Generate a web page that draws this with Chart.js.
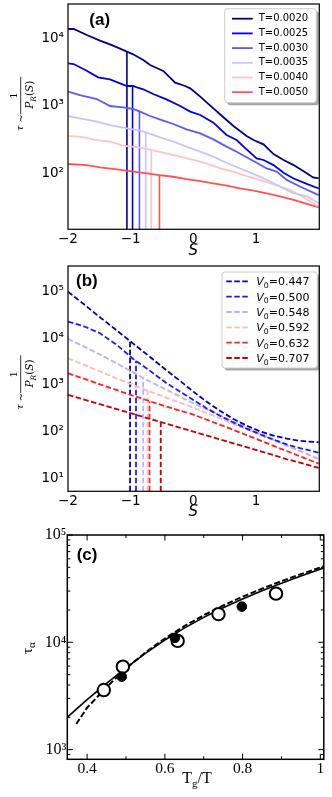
<!DOCTYPE html>
<html><head><meta charset="utf-8">
<script src="https://cdn.jsdelivr.net/npm/chart.js@4.4.1/dist/chart.umd.min.js"></script>
<style>
html,body{margin:0;padding:0;background:#fff;}
body{width:332px;height:797px;position:relative;overflow:hidden;}
canvas{position:absolute;left:0;}
</style></head><body>
<canvas id="ca" width="332" height="262" style="top:0px;width:332px;height:262px"></canvas>
<canvas id="cb" width="332" height="263" style="top:262px;width:332px;height:263px"></canvas>
<canvas id="cc" width="332" height="272" style="top:525px;width:332px;height:272px"></canvas>
<script>
// ================= DATA =================
// ---- panel (a): tau ~ 1/P_R(S) vs S, simulations ----
const a_T = [0.0020, 0.0025, 0.0030, 0.0035, 0.0040, 0.0050];
const a_S_T0020 = [-2.00,-1.91,-1.70,-1.49,-1.28,-1.06,-0.96,-0.80,-0.69,-0.48,-0.29,-0.13,-0.05,0.11,0.32,0.53,0.64,0.85,0.96,1.12,1.28,1.44,1.60,1.81,1.91,2.00];
const a_tau_T0020 = [13600,13600,11070,9130,7690,6280,5730,4720,3980,3250,2180,1945,1795,1352,908,610,497,353,308,266,191,156,131,99,86,83];
const a_S_T0025 = [-2.00,-1.91,-1.70,-1.52,-1.33,-1.17,-1.06,-0.96,-0.90,-0.80,-0.64,-0.43,-0.21,-0.05,0.11,0.32,0.53,0.69,0.85,1.01,1.12,1.28,1.44,1.60,1.81,2.00];
const a_tau_T0025 = [4220,4120,3280,2610,2440,2130,1945,1945,1860,1738,1480,1234,983,811,723,557,366,308,224,165,156,131,101,83,69,59];
const a_S_T0030 = [-2.00,-1.81,-1.54,-1.33,-1.12,-0.96,-0.85,-0.69,-0.48,-0.32,-0.11,0.11,0.32,0.53,0.69,0.85,1.01,1.17,1.33,1.49,1.70,2.00];
const a_tau_T0030 = [1603,1431,1248,983,940,888,811,699,596,532,443,387,315,246,207,171,142,117,105,79,63,47];
const a_S_T0035 = [-2.00,-1.81,-1.54,-1.33,-1.06,-0.85,-0.74,-0.53,-0.32,-0.11,0.11,0.32,0.53,0.74,0.96,1.17,1.38,1.60,1.81,2.00];
const a_tau_T0035 = [699,645,576,514,459,424,396,338,291,246,207,175,142,117,97,79,63,50,45,36];
const a_S_T0040 = [-2.00,-1.81,-1.54,-1.33,-1.12,-0.85,-0.66,-0.43,-0.21,0.00,0.21,0.43,0.64,0.85,1.06,1.28,1.49,1.70,2.00];
const a_tau_T0040 = [353,345,308,291,254,237,219,196,175,156,139,117,105,90,79,68,59,47,32];
const a_S_T0050 = [-2.00,-1.70,-1.49,-1.22,-0.96,-0.74,-0.54,-0.32,-0.11,0.11,0.32,0.53,0.74,0.96,1.17,1.38,1.60,1.81,2.00];
const a_tau_T0050 = [136,131,121,113,105,99,93,88,81,76,70,65,59,55,50,45,40,35,31];
const a_markS = [-1.06,-0.97,-0.86,-0.76,-0.67,-0.54];
const a_markTau = [6280,1945,811,396,219,93];
const a_xTicks = [-2,-1,0,1];
const a_yTicks = [100,1000,10000];

// ---- panel (b): model curves ----
const b_V0 = [0.447, 0.500, 0.548, 0.592, 0.632, 0.707];
const b_S = [-2.00,-1.76,-1.49,-1.22,-0.96,-0.69,-0.43,-0.21,0.00,0.21,0.43,0.64,0.85,1.06,1.28,1.49,1.70,2.00];
const b_tau_V0447 = [97700,54700,27900,14500,7640,3960,2060,1220,721,442,279,188,136,103,83,72,64,60];
const b_tau_V0500 = [22600,18200,12700,7160,3600,2000,1100,720,479,320,218,158,117,89,68,54,45,36];
const b_tau_V0548 = [9620,6760,4470,2880,1860,1175,794,562,407,302,224,166,124,93,69,51,39,26];
const b_tau_V0592 = [3720,2750,1950,1380,1000,724,537,417,331,251,193,148,114,87,66,50,39,27];
const b_tau_V0632 = [1780,1380,1035,776,589,447,347,282,234,182,141,110,85,66,50,39,30,21];
const b_tau_V0707 = [617,497,389,305,241,189,150,122,101,84,69,57,47,39,32,26,22,17];
const b_markS = [-1.01,-0.915,-0.80,-0.73,-0.70,-0.52];
const b_markTau = [8600,3300,1410,760,452,162];
const b_xTicks = [-2,-1,0,1];
const b_yTicks = [10,100,1000,10000,100000];

// ---- panel (c): tau_alpha vs Tg/T ----
const c_x_open = [0.443, 0.492, 0.633, 0.738, 0.886];
const c_tau_open = [3590, 5930, 10300, 18300, 28400];
const c_x_filled = [0.489, 0.626, 0.798];
const c_tau_filled = [4780, 11000, 21500];
const c_x_solid = [0.35,0.40,0.45,0.50,0.55,0.60,0.65,0.70,0.75,0.80,0.85,0.90,0.95,1.01];
const c_tau_solid = [2018,2917,4150,5781,7889,10495,13552,17061,20989,25351,30200,35560,41500,49550];
const c_x_dashed = [0.372,0.40,0.45,0.50,0.55,0.60,0.65,0.70,0.75,0.80,0.85,0.90,0.95,1.01];
const c_tau_dashed = [1730,2455,3819,5689,8035,10839,14125,17865,22030,26610,31620,37150,43150,51290];
const c_xTicks = [0.4,0.6,0.8,1.0];
const c_xMinorTicks = [0.5,0.7,0.9];
const c_yTicks = [1000,10000,100000];

// ================= STYLE / LAYOUT =================
const colA = ['#00008c','#0000e8','#5a5aff','#c6c6ff','#ffc4c4','#ff5252'];
const colB = ['#0000b8','#1c1cff','#b4b4ff','#ffb8b8','#ff2020','#c40000'];
const DASH_B = [5.5,2.5];
Chart.defaults.font.family = '"DejaVu Sans"';

const SUP = {'0':'\u2070','1':'\u00b9','2':'\u00b2','3':'\u00b3','4':'\u2074','5':'\u2075','6':'\u2076','7':'\u2077','8':'\u2078','9':'\u2079'};
function powLabel(v){ const e=Math.round(Math.log10(v)); return '10'+String(e).split('').map(c=>SUP[c]).join(''); }
function minusLabel(v){ return v<0 ? '\u2212'+Math.abs(v) : String(v); }
function pts(xs, ys){ return xs.map((x,i)=>({x:x, y:ys[i]})); }

function frame(ctx, ca, lw, col){ ctx.save(); ctx.strokeStyle=col; ctx.lineWidth=lw; ctx.strokeRect(ca.left, ca.top, ca.right-ca.left, ca.bottom-ca.top); ctx.restore(); }
function roundRect(ctx,x,y,w,h,r){ ctx.beginPath(); ctx.moveTo(x+r,y); ctx.arcTo(x+w,y,x+w,y+h,r); ctx.arcTo(x+w,y+h,x,y+h,r); ctx.arcTo(x,y+h,x,y,r); ctx.arcTo(x,y,x+w,y,r); ctx.closePath(); }
function seq(ctx, x, y, parts){
  ctx.textAlign='left'; ctx.textBaseline='alphabetic';
  for (const p of parts){ ctx.font=p[1]; ctx.fillText(p[0], x, y+(p[2]||0)); x+=ctx.measureText(p[0]).width; }
  return x;
}
function seqWidth(ctx, parts){ let w=0; for(const p of parts){ ctx.font=p[1]; w+=ctx.measureText(p[0]).width; } return w; }

function panelLabel(ctx, t, x, y){
  ctx.save(); ctx.fillStyle='#000'; ctx.font='bold 17px "Liberation Sans"'; ctx.textAlign='left'; ctx.textBaseline='middle';
  ctx.fillText(t, x, y); ctx.restore();
}
function fracTitle(ctx, cx, cy){
  ctx.save(); ctx.translate(cx, cy); ctx.rotate(-Math.PI/2); ctx.fillStyle='#000'; ctx.strokeStyle='#000';
  ctx.lineWidth=0.8; ctx.beginPath(); ctx.moveTo(-18.8,0); ctx.lineTo(18.8,0); ctx.stroke();
  const F='"DejaVu Serif"';
  ctx.font='10px '+F; ctx.textAlign='center'; ctx.textBaseline='alphabetic'; ctx.fillText('1', 0, -4.2);
  const den=[['P','italic 10.5px '+F,0],['R','italic 7.5px '+F,2.5],['(','10.5px '+F,0],['S','italic 10.5px '+F,0],[')','10.5px '+F,0]];
  const w=seqWidth(ctx, den); seq(ctx, 0.8-w/2, 12.4, den);
  ctx.textAlign='center';
  ctx.font='italic 10px '+F; ctx.fillText('\u03c4', -32.8, 2.7);
  ctx.font='10px '+F; ctx.fillText('~', -22.8, 3.2);
  ctx.restore();
}
function titleS(ctx, x, y){
  ctx.save(); ctx.fillStyle='#000'; ctx.font='italic 15px "DejaVu Sans"'; ctx.textAlign='center'; ctx.textBaseline='middle';
  ctx.fillText('S', x, y); ctx.restore();
}
function legend(ctx, box, rows, lx0, lx1, tx, items){
  ctx.save();
  roundRect(ctx, box.x+2.5, box.y+2.5, box.w, box.h, 3); ctx.fillStyle='rgba(0,0,0,0.35)'; ctx.fill();
  roundRect(ctx, box.x, box.y, box.w, box.h, 3); ctx.fillStyle='#fff'; ctx.fill();
  ctx.strokeStyle='#cccccc'; ctx.lineWidth=1; ctx.stroke();
  items.forEach((it,i)=>{
    const y=rows[i];
    ctx.beginPath(); ctx.setLineDash(it.dash||[]); ctx.strokeStyle=it.color; ctx.lineWidth=it.width;
    ctx.moveTo(lx0,y); ctx.lineTo(lx1,y); ctx.stroke(); ctx.setLineDash([]);
    ctx.fillStyle='#000'; it.text(ctx, tx, y);
  });
  ctx.restore();
}

function makeChart(id, W, H, area, xc, yc, datasets, decor){
  return new Chart(document.getElementById(id), {
    type:'line',
    data:{ datasets: datasets },
    options:{
      responsive:false, animation:false, devicePixelRatio:1, events:[],
      layout:{ padding:{ left:0, top:area.top, right:W-area.right, bottom:0 } },
      plugins:{ legend:{display:false}, tooltip:{enabled:false}, title:{display:false} },
      elements:{ point:{ radius:0 }, line:{ tension:0, fill:false } },
      scales:{
        x:{ type:'linear', position:'bottom', min:xc.min, max:xc.max,
            afterFit: s=>{ s.height = H-area.bottom; s.paddingLeft=0; s.paddingRight=0; },
            afterBuildTicks: s=>{ s.ticks = xc.ticks.map(v=>({value:v})); },
            ticks:{ callback: xc.fmt, font: xc.font, color:'#000', padding: xc.pad, maxRotation:0, minRotation:0, autoSkip:false },
            grid:{ display:false, drawTicks:false }, border:{ display:false } },
        y:{ type:'logarithmic', position:'left', min:yc.min, max:yc.max,
            afterFit: s=>{ s.width = area.left; s.paddingTop=0; s.paddingBottom=0; },
            afterBuildTicks: s=>{ s.ticks = yc.ticks.map(v=>({value:v})); },
            ticks:{ callback: v=>powLabel(v), font: yc.font, color:'#000', padding: yc.pad, autoSkip:false },
            grid:{ display:false, drawTicks:false }, border:{ display:false } }
      }
    },
    plugins:[{ id:'decor', afterDraw: c=>decor(c) }]
  });
}

// ================= PANEL (a) =================
const A_AREA = {left:68, top:4, right:319.3, bottom:229.3};
const A_YMIN = 14.66, A_YMAX = 31900;
const aS = [a_S_T0020,a_S_T0025,a_S_T0030,a_S_T0035,a_S_T0040,a_S_T0050];
const aTau = [a_tau_T0020,a_tau_T0025,a_tau_T0030,a_tau_T0035,a_tau_T0040,a_tau_T0050];
const dsA = aS.map((s,i)=>({ label:'T='+a_T[i].toFixed(4), data:pts(s,aTau[i]), borderColor:colA[i], borderWidth:1.8, pointRadius:0 }))
  .concat(a_markS.map((s,i)=>({ label:'', data:[{x:s,y:A_YMIN},{x:s,y:a_markTau[i]}], borderColor:colA[i], borderWidth:1.6, pointRadius:0 })));
makeChart('ca', 332, 262, A_AREA,
  { min:-2, max:2.01, ticks:a_xTicks, fmt:v=>minusLabel(v), font:{size:13.5, family:'"DejaVu Sans"'}, pad:2 },
  { min:A_YMIN, max:A_YMAX, ticks:a_yTicks, font:{size:13.5, family:'"DejaVu Sans"'}, pad:4 },
  dsA,
  c=>{
    const ctx=c.ctx;
    frame(ctx, c.chartArea, 1.3, '#111');
    panelLabel(ctx, '(a)', 89.3, 20.7);
    fracTitle(ctx, 20.7, 95.5);
    titleS(ctx, 193.3, 251);
    const items = a_T.map((t,i)=>({ color:colA[i], width:1.8, text:(cx,x,y)=>{ cx.font='10px "DejaVu Sans"'; cx.textAlign='left'; cx.textBaseline='middle'; cx.fillText(c.data.datasets[i].label, x, y); } }));
    legend(ctx, {x:224.7, y:8.7, w:91.6, h:94}, [18.7,33.4,48.1,62.8,77.5,92.2], 232, 252.7, 258.7, items);
  });

// ================= PANEL (b) =================
const B_AREA = {left:68, top:4, right:319.3, bottom:229.3};
const B_YMIN = 5.38, B_YMAX = 346700;
const bTau = [b_tau_V0447,b_tau_V0500,b_tau_V0548,b_tau_V0592,b_tau_V0632,b_tau_V0707];
const dsB = bTau.map((t,i)=>({ label:b_V0[i].toFixed(3), data:pts(b_S,t), borderColor:colB[i], borderWidth:1.8, borderDash:DASH_B, pointRadius:0 }))
  .concat(b_markS.map((s,i)=>({ label:'', data:[{x:s,y:B_YMIN},{x:s,y:b_markTau[i]}], borderColor:colB[i], borderWidth:1.8, borderDash:DASH_B, pointRadius:0 })));
makeChart('cb', 332, 263, B_AREA,
  { min:-2, max:2.01, ticks:b_xTicks, fmt:v=>minusLabel(v), font:{size:13.5, family:'"DejaVu Sans"'}, pad:2 },
  { min:B_YMIN, max:B_YMAX, ticks:b_yTicks, font:{size:13.5, family:'"DejaVu Sans"'}, pad:4 },
  dsB,
  c=>{
    const ctx=c.ctx;
    frame(ctx, c.chartArea, 1.3, '#111');
    panelLabel(ctx, '(b)', 76, 19.7);
    fracTitle(ctx, 20.7, 112.2);
    titleS(ctx, 193.3, 250.3);
    const items = b_V0.map((v,i)=>({ color:colB[i], width:1.8, dash:DASH_B, text:(cx,x,y)=>{
      cx.fillStyle='#000';
      seq(cx, x, y+4, [['V','italic 11px "DejaVu Sans"',0],['0','7.7px "DejaVu Sans"',2.6],['='+c.data.datasets[i].label,'11px "DejaVu Sans"',0]]);
    } }));
    legend(ctx, {x:222, y:10, w:95.3, h:96}, [19.3,34.65,50,65.35,80.7,96], 226.3, 248.7, 256.3, items);
  });

// ================= PANEL (c) =================
const C_AREA = {left:67.3, top:10, right:326.7, bottom:234.3};
const C_YMIN = 812, C_YMAX = 100000;
const dsC = [
  { label:'filled', data:pts(c_x_filled,c_tau_filled), showLine:false, pointRadius:4.8, pointBorderWidth:1, pointBackgroundColor:'#000', pointBorderColor:'#000', order:0 },
  { label:'open', data:pts(c_x_open,c_tau_open), showLine:false, pointRadius:6.2, pointBorderWidth:2, pointBackgroundColor:'#fff', pointBorderColor:'#000', order:1 },
  { label:'solid', data:pts(c_x_solid,c_tau_solid), borderColor:'#000', borderWidth:1.6, pointRadius:0, order:2 },
  { label:'dashed', data:pts(c_x_dashed,c_tau_dashed), borderColor:'#000', borderWidth:2, borderDash:[6,2.5], pointRadius:0, order:2 }
];
makeChart('cc', 332, 272, C_AREA,
  { min:0.349, max:1.009, ticks:c_xTicks, fmt:v=>(v===1?'1':v.toFixed(1)), font:{size:15.5, family:'"Liberation Serif"'}, pad:0 },
  { min:C_YMIN, max:C_YMAX, ticks:c_yTicks, font:{size:16, family:'"Liberation Serif"'}, pad:1 },
  dsC,
  c=>{
    const ctx=c.ctx, ca=c.chartArea, xs=c.scales.x, ys=c.scales.y;
    ctx.save(); ctx.strokeStyle='#000'; ctx.lineWidth=1; ctx.beginPath();
    const add=(x1,y1,x2,y2)=>{ ctx.moveTo(x1,y1); ctx.lineTo(x2,y2); };
    c_xTicks.forEach(v=>{ const p=xs.getPixelForValue(v); add(p,ca.bottom,p,ca.bottom-5.5); add(p,ca.top,p,ca.top+5.5); });
    c_xMinorTicks.forEach(v=>{ const p=xs.getPixelForValue(v); add(p,ca.bottom,p,ca.bottom-3); add(p,ca.top,p,ca.top+3); });
    c_yTicks.forEach(v=>{ const p=ys.getPixelForValue(v); add(ca.left,p,ca.left+5.5,p); add(ca.right,p,ca.right-5.5,p); });
    for (let n=2;n<=4;n++) for (let k=2;k<=9;k++){ const v=k*Math.pow(10,n); if (v>C_YMIN && v<C_YMAX){ const p=ys.getPixelForValue(v); add(ca.left,p,ca.left+3,p); add(ca.right,p,ca.right-3,p); } }
    ctx.stroke(); ctx.restore();
    frame(ctx, ca, 1.5, '#000');
    panelLabel(ctx, '(c)', 76.7, 30);
    ctx.save(); ctx.fillStyle='#000';
    seq(ctx, 182.3, 258.3, [['T','16px "Liberation Serif"',0],['g','11px "Liberation Serif"',4],['/T','16px "Liberation Serif"',0]]);
    ctx.translate(31.7, 121); ctx.rotate(-Math.PI/2);
    seq(ctx, -8, 0, [['\u03c4','15px "Liberation Serif"',0],['\u03b1','11px "Liberation Serif"',3.5]]);
    ctx.restore();
  });
</script>
</body></html>
